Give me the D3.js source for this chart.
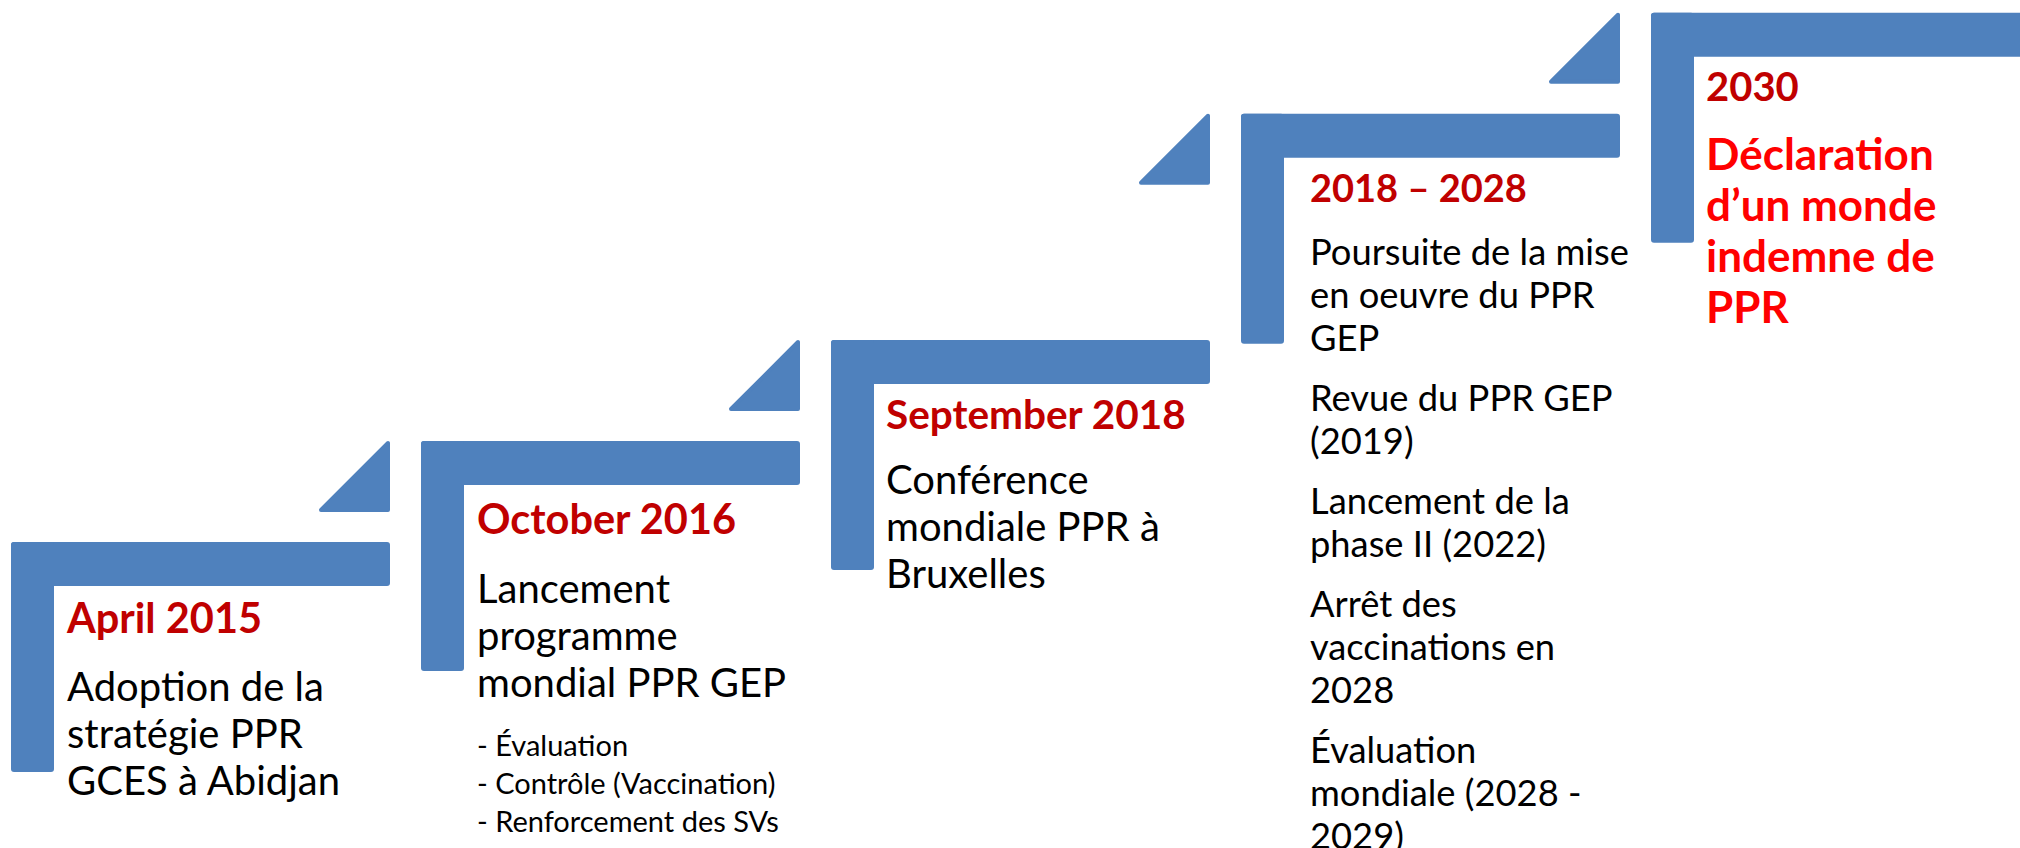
<!DOCTYPE html>
<html>
<head>
<meta charset="utf-8">
<script src="https://cdn.jsdelivr.net/npm/d3@7"></script>
<style>
  body { margin: 0; background: #fff; }
  svg { display: block; }
</style>
</head>
<body>
<div id="timeline"></div>
<script>
// timeline content
const titles = ["April 2015", "October 2016", "September 2018", "2018 – 2028", "2030"];

const descriptions = [
  [["Adoption de la", "stratégie PPR", "GCES à Abidjan"]],
  [["Lancement", "programme", "mondial PPR GEP"]],
  [["Conférence", "mondiale PPR à", "Bruxelles"]],
  [
    ["Poursuite de la mise", "en oeuvre du PPR", "GEP"],
    ["Revue du PPR GEP", "(2019)"],
    ["Lancement de la", "phase II (2022)"],
    ["Arrêt des", "vaccinations en", "2028"],
    ["Évaluation", "mondiale (2028 -", "2029)"]
  ],
  [["Déclaration", "d’un monde", "indemne de", "PPR"]]
];

const subItems = ["- Évaluation", "- Contrôle (Vaccination)", "- Renforcement des SVs"];
const subItemStep = 1;

// layout
const width = 2020;
const height = 848;
const stepRise = [0, 1, 2, 4.24, 5.24];

const x = d3.scaleLinear().domain([0, 1]).range([11, 421]);
const y = d3.scaleLinear().domain([0, 1]).range([542, 441]);

const barLen = 379, barThick = 44, postLen = 230, postThick = 43;
const triSize = 71;
const blue = "#4F81BD";

const textStyle = [
  { dx: 56, title: 91, titleSize: 41.5, size: 40, first: 68, lineH: 47, gap: 0, color: "#000", weight: 400 },
  { dx: 56, title: 93, titleSize: 41.5, size: 40, first: 69, lineH: 47, gap: 0, color: "#000", weight: 400 },
  { dx: 55, title: 89, titleSize: 40.5, size: 40, first: 65, lineH: 47, gap: 0, color: "#000", weight: 400 },
  { dx: 69, title: 88, titleSize: 38, size: 36.3, first: 63, lineH: 43, gap: 17, color: "#000", weight: 400 },
  { dx: 55, title: 88, titleSize: 40, size: 44, first: 69, lineH: 51, gap: 0, color: "#FF0000", weight: 700 }
];

const svg = d3
  .select("#timeline")
  .append("svg")
  .attr("width", width)
  .attr("height", height)
  .style("font-family", "Lato, 'Open Sans', sans-serif");

const steps = svg
  .selectAll("g.step")
  .data(titles)
  .enter()
  .append("g")
  .attr("class", "step")
  .attr("transform", (d, i) => `translate(${x(i)}, ${y(stepRise[i])})`);

// L shaped stair
steps
  .append("rect")
  .attr("width", barLen)
  .attr("height", barThick)
  .attr("rx", 3)
  .attr("fill", blue);

steps
  .append("rect")
  .attr("width", postThick)
  .attr("height", postLen)
  .attr("rx", 3)
  .attr("fill", blue);

// small triangle up to the next step
steps
  .filter((d, i) => i < titles.length - 1)
  .append("path")
  .attr("d", (d, i) => {
    const top = y(stepRise[i + 1]) - y(stepRise[i]);
    const bottom = top + triSize;
    return `M${barLen - 2},${top + 2} L${barLen - 2},${bottom - 2} L${barLen - triSize + 2},${bottom - 2} Z`;
  })
  .attr("fill", blue)
  .attr("stroke", blue)
  .attr("stroke-width", 4)
  .attr("stroke-linejoin", "round");

// titles
steps
  .append("text")
  .attr("x", (d, i) => textStyle[i].dx)
  .attr("y", (d, i) => textStyle[i].title)
  .attr("fill", "#C00000")
  .attr("font-weight", 700)
  .attr("font-size", (d, i) => textStyle[i].titleSize)
  .text((d) => d);

// description lines
steps.each(function (d, i) {
  const s = textStyle[i];
  const g = d3.select(this);
  let yy = s.title + s.first;
  descriptions[i].forEach((para, p) => {
    if (p > 0) yy += s.gap;
    para.forEach((line) => {
      g.append("text")
        .attr("x", s.dx)
        .attr("y", yy)
        .attr("fill", s.color)
        .attr("font-weight", s.weight)
        .attr("font-size", s.size)
        .text(line);
      yy += s.lineH;
    });
  });
  if (i === subItemStep) {
    yy += 12;
    subItems.forEach((item) => {
      g.append("text")
        .attr("x", s.dx)
        .attr("y", yy)
        .attr("fill", "#000")
        .attr("font-size", 29)
        .text(item);
      yy += 38;
    });
  }
});
</script>
</body>
</html>
